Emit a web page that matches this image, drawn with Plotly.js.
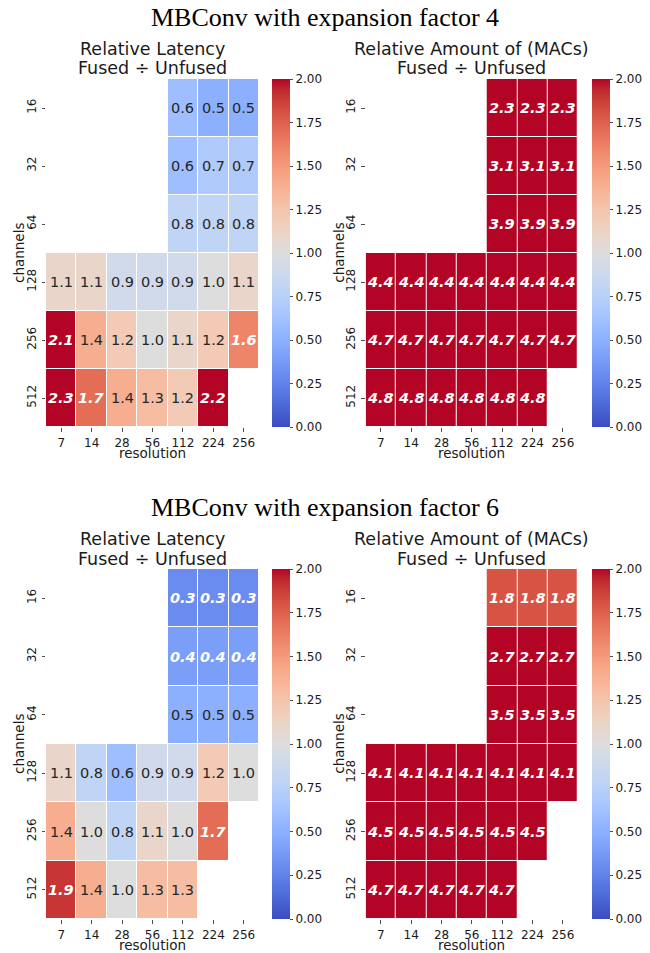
<!DOCTYPE html>
<html>
<head>
<meta charset="utf-8">
<script src="https://cdn.plot.ly/plotly-3.0.1.min.js"></script>
<style>html,body{margin:0;padding:0;background:#fff;}#chart{width:650px;height:953px;}</style>
</head>
<body>
<div id="chart"></div>
<script>
// ---- data ----
const resolutions = ['7', '14', '28', '56', '112', '224', '256'];
const channels = ['16', '32', '64', '128', '256', '512'];

const latencyE4 = [
  [null, null, null, null, 0.6, 0.5, 0.5],
  [null, null, null, null, 0.6, 0.7, 0.7],
  [null, null, null, null, 0.8, 0.8, 0.8],
  [1.1, 1.1, 0.9, 0.9, 0.9, 1.0, 1.1],
  [2.1, 1.4, 1.2, 1.0, 1.1, 1.2, 1.6],
  [2.3, 1.7, 1.4, 1.3, 1.2, 2.2, null]
];
const macsE4 = [
  [null, null, null, null, 2.3, 2.3, 2.3],
  [null, null, null, null, 3.1, 3.1, 3.1],
  [null, null, null, null, 3.9, 3.9, 3.9],
  [4.4, 4.4, 4.4, 4.4, 4.4, 4.4, 4.4],
  [4.7, 4.7, 4.7, 4.7, 4.7, 4.7, 4.7],
  [4.8, 4.8, 4.8, 4.8, 4.8, 4.8, null]
];
const latencyE6 = [
  [null, null, null, null, 0.3, 0.3, 0.3],
  [null, null, null, null, 0.4, 0.4, 0.4],
  [null, null, null, null, 0.5, 0.5, 0.5],
  [1.1, 0.8, 0.6, 0.9, 0.9, 1.2, 1.0],
  [1.4, 1.0, 0.8, 1.1, 1.0, 1.7, null],
  [1.9, 1.4, 1.0, 1.3, 1.3, null, null]
];
const macsE6 = [
  [null, null, null, null, 1.8, 1.8, 1.8],
  [null, null, null, null, 2.7, 2.7, 2.7],
  [null, null, null, null, 3.5, 3.5, 3.5],
  [4.1, 4.1, 4.1, 4.1, 4.1, 4.1, 4.1],
  [4.5, 4.5, 4.5, 4.5, 4.5, 4.5, null],
  [4.7, 4.7, 4.7, 4.7, 4.7, null, null]
];
const colorbarTicks = [0, 0.25, 0.5, 0.75, 1.0, 1.25, 1.5, 1.75, 2.0];
const mainTitles = ['MBConv with expansion factor 4', 'MBConv with expansion factor 6'];
const latencyTitle = ['Relative Latency', 'Fused \u00f7 Unfused'];
const macsTitle = ['Relative Amount of (MACs)', 'Fused \u00f7 Unfused'];

// ---- coolwarm colorscale ----
const cw = [
  [59,76,192],[68,90,204],[77,104,215],[87,117,225],[98,130,234],[108,142,241],
  [119,154,247],[130,165,251],[141,176,254],[152,185,255],[163,194,255],[174,201,253],
  [184,208,249],[194,213,244],[204,217,238],[213,219,230],[221,221,221],[229,216,209],
  [236,211,197],[241,204,184],[245,196,172],[247,187,160],[247,177,148],[247,166,135],
  [244,154,123],[241,141,111],[236,127,99],[229,112,88],[222,96,77],[213,80,66],
  [203,62,56],[192,40,47],[180,4,38]
];
const coolwarm = cw.map((c, i) => [i / (cw.length - 1), 'rgb(' + c.join(',') + ')']);

// ---- geometry (pixels) ----
const W = 650, H = 953;
const px = v => v / W;
const py = v => 1 - v / H;
const colX = [[46, 259], [365.7, 578]];
const rowY = [[79, 427], [569, 919]];
const cbX = [272, 592];
const FONT = 'DejaVu Sans, sans-serif';
const TXT = '#1a1a1a';

const panels = [
  {z: latencyE4, col: 0, row: 0, title: latencyTitle},
  {z: macsE4, col: 1, row: 0, title: macsTitle},
  {z: latencyE6, col: 0, row: 1, title: latencyTitle},
  {z: macsE6, col: 1, row: 1, title: macsTitle}
];

const traces = [];
const layout = {
  width: W, height: H,
  margin: {l: 0, r: 0, t: 0, b: 0},
  paper_bgcolor: '#fff', plot_bgcolor: '#fff',
  showlegend: false,
  font: {family: FONT, color: TXT},
  annotations: []
};

panels.forEach((p, i) => {
  const n = i + 1;
  const xa = 'x' + (n === 1 ? '' : n), ya = 'y' + (n === 1 ? '' : n);
  const [x0, x1] = colX[p.col];
  const [y0, y1] = rowY[p.row];
  traces.push({
    type: 'heatmap',
    x: resolutions, y: channels, z: p.z,
    xaxis: xa, yaxis: ya,
    zmin: 0, zmax: 2,
    colorscale: coolwarm,
    xgap: 1, ygap: 1,
    hoverongaps: false,
    colorbar: {
      x: px(cbX[p.col]), xanchor: 'left', xpad: 0,
      y: (py(y0) + py(y1)) / 2, yanchor: 'middle', ypad: 0,
      len: (y1 - y0) / H, lenmode: 'fraction',
      thickness: 18, thicknessmode: 'pixels',
      outlinewidth: 0,
      tickvals: colorbarTicks, tickformat: '.2f',
      ticks: 'outside', ticklen: 3.5, tickwidth: 0.8, tickcolor: '#222',
      tickfont: {family: FONT, size: 12, color: TXT}
    }
  });
  const axCommon = {
    type: 'category', showgrid: false, zeroline: false, showline: false,
    ticks: 'outside', ticklen: 3.5, tickwidth: 0.8, tickcolor: '#222',
    tickfont: {family: FONT, size: 12, color: TXT}, fixedrange: true
  };
  layout['xaxis' + (n === 1 ? '' : n)] = Object.assign({}, axCommon, {
    domain: [px(x0), px(x1)], anchor: ya, range: [-0.5, 6.5], ticklabelstandoff: 1
  });
  layout['yaxis' + (n === 1 ? '' : n)] = Object.assign({}, axCommon, {
    domain: [py(y1), py(y0)], anchor: xa, range: [5.5, -0.5], tickangle: -90, ticklabelstandoff: 1
  });
  // cell labels (category axes: position by category index)
  p.z.forEach((rowVals, r) => {
    rowVals.forEach((v, c) => {
      if (v === null) return;
      const strong = v <= 0.4 || v >= 1.6;
      layout.annotations.push({
        xref: xa, yref: ya, x: c, y: r,
        text: v.toFixed(1), showarrow: false,
        font: strong ? {family: FONT, size: 14.5, color: '#fff', weight: 'bold', style: 'italic'}
                     : {family: FONT, size: 14.5, color: '#262626'}
      });
    });
  });
  // subplot titles
  const cx = px((x0 + x1) / 2);
  [[p.title[0], y0 - 30], [p.title[1], y0 - 10.5]].forEach(([t, yy]) => {
    layout.annotations.push({
      xref: 'paper', yref: 'paper', x: cx, y: py(yy), xanchor: 'center', yanchor: 'middle',
      text: t, showarrow: false, font: {family: FONT, size: 17.5, color: TXT}
    });
  });
  // axis titles
  layout.annotations.push({
    xref: 'paper', yref: 'paper', x: cx, y: py(y1 + 26), xanchor: 'center', yanchor: 'middle',
    borderpad: 0,
    text: 'resolution', showarrow: false, font: {family: FONT, size: 13.5, color: TXT}
  });
  layout.annotations.push({
    xref: 'paper', yref: 'paper', x: px(x0 - 27), y: py((y0 + y1) / 2), xanchor: 'center', yanchor: 'middle',
    borderpad: 0,
    text: 'channels', textangle: -90, showarrow: false, font: {family: FONT, size: 13.5, color: TXT}
  });
});

// main titles
[[mainTitles[0], 18], [mainTitles[1], 507]].forEach(([t, yy]) => {
  layout.annotations.push({
    xref: 'paper', yref: 'paper', x: 0.5, y: py(yy), xanchor: 'center', yanchor: 'middle',
    text: t, showarrow: false, font: {family: 'Liberation Serif, Times New Roman, serif', size: 26, color: '#000'}
  });
});

Plotly.newPlot('chart', traces, layout, {displayModeBar: false, staticPlot: true});
</script>
</body>
</html>
